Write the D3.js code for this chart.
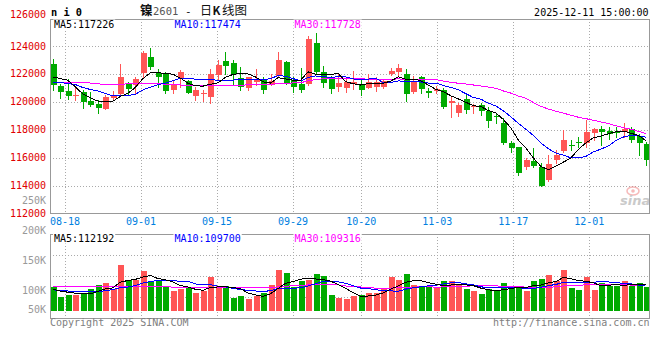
<!DOCTYPE html>
<html><head><meta charset="utf-8">
<script src="https://cdn.jsdelivr.net/npm/d3@7"></script>
<style>html,body{margin:0;padding:0;background:#fff;}svg{display:block}</style>
</head><body>
<svg id="c" width="660" height="360"></svg>
<script>
const dates = ["08-14","08-15","08-18","08-19","08-20","08-21","08-22","08-25","08-26","08-27","08-28","08-29",
"09-01","09-02","09-03","09-04","09-05","09-08","09-09","09-10","09-11","09-12","09-15","09-16","09-17","09-18","09-19","09-22","09-23","09-24","09-25","09-26","09-29","09-30",
"10-09","10-10","10-13","10-14","10-15","10-16","10-17","10-20","10-21","10-22","10-23","10-24","10-27","10-28","10-29","10-30","10-31",
"11-03","11-04","11-05","11-06","11-07","11-10","11-11","11-12","11-13","11-14","11-17","11-18","11-19","11-20","11-21","11-24","11-25","11-26","11-27","11-28",
"12-01","12-02","12-03","12-04","12-05","12-08","12-09","12-10","12-11"];

const open = [122710,121170,120790,120470,120710,120100,119860,119500,120310,120600,
121290,121190,122100,123210,122070,121980,120860,121690,121520,120450,
120570,120380,121950,122930,122790,121710,121000,121450,121620,121210,
121880,122860,121620,121330,121330,124240,122190,121690,121100,121020,
121330,121290,121020,121050,121100,121980,122170,122050,120710,121790,
120790,120790,120860,119900,119240,120190,119670,119760,119360,118980,
118520,117070,116810,115310,115790,115320,114430,115860,116520,116950,
117140,117070,117810,118070,117950,117880,117860,118070,117600,117000];
const high = [123070,121330,121640,121140,120860,120690,120120,120500,120790,122740,
121450,121810,123640,123860,122400,122170,121570,122290,121620,121100,
120900,122360,123020,123570,123000,122500,121790,122360,121810,122000,
123570,122930,121810,122430,124740,124950,122570,121860,122050,121740,
122210,121570,121980,121810,121620,122450,122740,122360,121900,121860,
121020,121140,121000,120400,119900,120480,119860,119950,119620,119190,
118830,117240,116810,116020,116690,115620,116210,116570,118000,117290,
117480,118740,118120,118290,118190,118240,118480,118240,117720,117100];
const low = [120860,120310,120210,120140,119600,119690,119240,119500,120140,120500,
120550,120640,121810,122380,121050,120620,120620,121050,120620,120140,
120100,119900,121670,122050,121330,120860,120860,121210,120670,121210,
121810,121330,120740,120740,121260,122100,121050,120670,120790,120740,
120950,120500,120980,120810,120980,121930,121930,120100,120620,120670,
120380,120620,119550,118950,119000,119190,119240,119070,118240,118520,
117000,116380,114740,115190,115330,113950,114310,115620,116380,116570,
116810,116810,117290,116920,117380,117480,117520,117100,116210,115500];
const close = [121210,120740,120450,120500,120020,119810,119600,120360,120480,121790,
120930,121690,123520,122520,121810,120810,121330,122140,120670,120900,
120670,122020,122670,122600,121980,121100,121790,121570,120860,121520,
123000,121380,121100,120860,124500,122170,121380,120930,121380,121450,
121450,120900,121450,121450,121500,122210,122450,120550,121540,120930,
120620,120950,119670,120100,119790,119430,119710,119360,118670,118930,
117070,116730,114900,115860,115380,114000,115570,116210,117290,116900,
117100,117860,118070,117880,117710,117830,118100,117290,117050,115860];

const ma5 = [121800,121690,121570,121100,120586,120305,120076,120057,120052,120405,
120629,121048,121681,122091,122095,122072,122000,121724,121353,121172,
121143,121281,121386,121772,121986,122071,122024,121805,121457,121367,
121748,121667,121571,121571,122167,122000,122000,121967,122072,121462,
121319,121224,121328,121343,121352,121505,121814,121633,121651,121537,
121218,120918,120742,120453,120224,119986,119738,119676,119391,119219,
118747,118150,117260,116698,115989,115375,115143,115405,115690,115995,
116614,117071,117443,117562,117724,117871,117919,117762,117595,117226];
const ma10 = [121405,121405,121333,121262,121048,120905,120810,120619,120452,120495,
120467,120562,120869,121072,121250,121350,121524,121703,121722,121634,
121607,121641,121555,121562,121579,121607,121653,121595,121614,121676,
121910,121845,121688,121514,121767,121874,121833,121769,121822,121814,
121660,121612,121648,121707,121407,121412,121519,121481,121497,121445,
121361,121366,121188,121052,120880,120602,120328,120209,119922,119722,
119367,118944,118468,118044,117604,117061,116647,116332,116194,115992,
115994,116107,116424,116626,116859,117243,117495,117602,117579,117474];
const ma30 = [121400,121400,121400,121390,121380,121370,121300,121290,121290,121290,
121300,121330,121350,121360,121360,121260,121250,121230,121180,121170,
121170,121180,121190,121200,121210,121220,121230,121240,121250,121268,
121328,121349,121371,121383,121532,121610,121670,121689,121719,121708,
121725,121699,121630,121595,121584,121631,121668,121615,121644,121645,
121643,121608,121508,121424,121351,121296,121227,121153,121080,120993,
120796,120641,120434,120268,119964,119692,119498,119341,119204,119053,
118907,118806,118693,118574,118448,118302,118157,118048,117898,117728];

const volume = [107000,90000,93000,94000,96000,103000,110000,114000,103000,143000,
118000,119000,133000,117000,117000,108000,100000,103000,106000,97000,
100000,123000,108000,108000,89000,91000,87000,92000,97000,110000,
135000,130000,106000,117000,119000,128000,125000,93000,89000,87000,
92000,93000,97000,97000,105000,124000,118000,129000,110000,106000,
106000,106000,116000,116000,110000,103000,100000,95000,103000,100000,
114000,108000,106000,100000,116000,120000,126000,117000,135000,105000,
102000,123000,102000,113000,108000,108000,116000,108000,113000,107000];
const volMa5 = [103000,100000,98000,96500,96000,95200,99200,103400,105200,114600,
117600,119400,123200,126000,120800,118800,115000,109000,106800,102800,
101200,105800,106800,107200,105600,103800,96600,93400,91200,95400,
104200,112800,115600,119600,121400,120000,119000,116400,110800,104400,
97200,90800,91600,93200,96800,103200,108200,114600,117200,117400,
113800,111400,108800,110000,110800,110200,109000,104800,102200,100200,
102400,104000,106200,105600,108800,110000,113600,115800,122800,120600,
117000,116400,113400,109000,109600,110800,109400,110600,110600,110400];
const volMa10 = [102000,101000,100000,99000,98500,98500,99000,100500,102500,105300,
106400,109300,113300,115600,117700,118200,117200,116100,116400,111800,
110000,110400,107900,107000,104200,102500,101200,100100,99200,100500,
104000,104700,104500,105400,108400,112100,115900,116000,115200,112900,
108600,104900,104000,102000,100600,100200,99500,103100,105200,107100,
108500,109800,111700,113600,114100,112000,110200,106800,106100,105500,
106300,106500,105500,103900,104500,106200,108800,111000,114200,114700,
113500,115000,114600,115900,115100,113900,112900,112000,109800,110000];
const volMa30 = [108000,108000,108000,108000,107500,107500,107000,107000,107000,107000,
107000,107000,107000,107000,107000,106800,106600,106500,106500,106500,
106300,106200,106100,106000,106000,106000,106000,106000,105900,105900,
106800,108100,108600,109300,110100,110900,111400,110700,110300,108400,
107500,106700,105500,104800,104400,104900,105500,106400,106500,106800,
107000,106500,106700,107000,107700,108100,108500,108600,108800,108500,
107800,107100,107100,106500,106400,106100,106200,107000,108500,109100,
109400,110400,110600,111100,111200,110700,110600,109900,110000,110100];

const priceTicks = [126000,124000,122000,120000,118000,116000,114000,112000];
const volTicks = [250000,200000,150000,100000,50000];
const volTickLabels = ["250K","200K","150K","100K","50K"];
const dateTicks = ["08-18","09-01","09-15","09-29","10-20","11-03","11-17","12-01"];
const symbolText = "n i 0";
const titleParts = ["镍", "2601", "-", "日", "K", "线图"];
const timeText = "2025-12-11 15:00:00";
const priceMaLabels = ["MA5:117226","MA10:117474","MA30:117728"];
const volMaLabels = ["MA5:112192","MA10:109700","MA30:109316"];

const RED = "#ff5555", GREEN = "#00aa00";
const MA_COLORS = ["#000000","#0000ff","#ff00ff"];
const GRID = "#aaaaaa", BORDER = "#999999";
const MONO = "'DejaVu Sans Mono', 'Liberation Mono', monospace";
const CJK = "'Noto Sans CJK SC', sans-serif";

const svg = d3.select("#c");
const L = 50, R = 650, T = 18.5, B = 213.5, VT = 234, VB = 318, VBASE = 311;
const n = close.length;

const x = d3.scaleLinear().domain([0, n - 1]).range([52.7, 646.1]);
const xg = d3.scaleLinear().domain([dates.indexOf("08-18"), dates.indexOf("12-01")]).range([65, 589.3]);
const y = d3.scaleLinear().domain([112000, 126000]).range([B, T]);
const vy = d3.scaleLinear().domain([55000, 195000]).range([VB, VT]);

const g = svg.append("g").attr("shape-rendering", "crispEdges");

// grids
const grid = g.append("g").attr("stroke", GRID).attr("stroke-dasharray", "1,2").attr("stroke-width", 1);
priceTicks.slice(1, -1).forEach(t => {
  const yy = Math.round(y(t)) + 0.5;
  grid.append("line").attr("x1", L).attr("x2", R).attr("y1", yy).attr("y2", yy);
});
[1, 2, 3].forEach(k => {
  const yy = Math.round(VT + (VB - VT) * k / 4) + 0.5;
  grid.append("line").attr("x1", L).attr("x2", R).attr("y1", yy).attr("y2", yy);
});
dateTicks.forEach(d => {
  const xx = Math.round(xg(dates.indexOf(d))) + 0.5;
  grid.append("line").attr("x1", xx).attr("x2", xx).attr("y1", T).attr("y2", B);
  grid.append("line").attr("x1", xx).attr("x2", xx).attr("y1", VT).attr("y2", VB);
});

// candles
const cg = g.append("g");
for (let i = 0; i < n; i++) {
  const up = close[i] >= open[i];
  const col = up ? RED : GREEN;
  const cx = Math.round(x(i));
  cg.append("line").attr("x1", cx + 0.5).attr("x2", cx + 0.5)
    .attr("y1", Math.round(y(high[i]))).attr("y2", Math.round(y(low[i])) + 1)
    .attr("stroke", col).attr("stroke-width", 1);
  const top = Math.round(y(Math.max(open[i], close[i])));
  const bot = Math.round(y(Math.min(open[i], close[i])));
  cg.append("rect").attr("x", cx - 2).attr("width", 6)
    .attr("y", top).attr("height", Math.max(1, bot - top)).attr("fill", col);
}

// volume bars
const vg = g.append("g");
for (let i = 0; i < n; i++) {
  const up = close[i] >= open[i];
  const cx = Math.round(x(i));
  const top = Math.round(vy(volume[i]));
  vg.append("rect").attr("x", cx - 2).attr("width", 6)
    .attr("y", top).attr("height", VBASE - top).attr("fill", up ? RED : GREEN);
}

// MA lines
const lineP = d3.line().x((d, i) => x(i)).y(d => y(d));
const lineV = d3.line().x((d, i) => x(i)).y(d => vy(d));
[ma30, ma10, ma5].forEach((s, k) => {
  svg.append("path").attr("d", lineP(s)).attr("fill", "none")
    .attr("stroke", MA_COLORS[2 - k]).attr("stroke-width", 1).attr("shape-rendering", "crispEdges");
});
[volMa30, volMa10, volMa5].forEach((s, k) => {
  svg.append("path").attr("d", lineV(s)).attr("fill", "none")
    .attr("stroke", MA_COLORS[2 - k]).attr("stroke-width", 1).attr("shape-rendering", "crispEdges");
});

// borders
const bg = svg.append("g").attr("fill", "none").attr("stroke", BORDER).attr("shape-rendering", "crispEdges");
bg.append("rect").attr("x", L + 0.5).attr("y", T + 0.5).attr("width", R - L - 1).attr("height", B - T - 0.5);
bg.append("rect").attr("x", L + 0.5).attr("y", VT + 0.5).attr("width", R - L - 1).attr("height", VB - VT);

// MA labels
const labelX = [54, 174.5, 294.5];
function maLabels(labels, base) {
  labels.forEach((t, k) => {
    svg.append("rect").attr("x", labelX[k] - 1).attr("y", base - 8).attr("width", t.length * 6.02 + 2)
      .attr("height", 10).attr("fill", "#fff");
    svg.append("text").attr("x", labelX[k]).attr("y", base).attr("font-family", MONO)
      .attr("font-size", 10).attr("fill", MA_COLORS[k]).text(t);
  });
}
maLabels(priceMaLabels, 27.5);
maLabels(volMaLabels, 241.5);

// price axis labels
priceTicks.forEach((t, k) => {
  svg.append("text").attr("x", 46).attr("y", k === 0 ? y(t) - 0.3 : y(t) + 3.2)
    .attr("text-anchor", "end").attr("font-family", MONO).attr("font-size", 10)
    .attr("fill", "#e00000").text(t);
});
// volume axis labels
volTicks.forEach((t, k) => {
  const yy = Math.min(vy(t), 310);
  svg.append("text").attr("x", 46).attr("y", yy + 3.2).attr("text-anchor", "end")
    .attr("font-family", MONO).attr("font-size", 10).attr("fill", "#999").text(volTickLabels[k]);
});
// date labels
dateTicks.forEach(d => {
  svg.append("text").attr("x", xg(dates.indexOf(d))).attr("y", 225).attr("text-anchor", "middle")
    .attr("font-family", MONO).attr("font-size", 10).attr("fill", "#0080e0").text(d);
});

// header
svg.append("text").attr("x", 51).attr("y", 15.5).attr("font-family", MONO).attr("font-weight", "bold")
  .attr("font-size", 11).attr("textLength", 31).attr("lengthAdjust", "spacingAndGlyphs").attr("fill", "#000").text(symbolText);
const title = svg.append("text").attr("y", 15).attr("fill", "#111");
const partX = [140, 153, 185, 200, 212.5, 222];
const partFont = [CJK, MONO, MONO, CJK, CJK, CJK];
const partSize = [12.5, 10.5, 11, 12, 11.5, 12.5];
const partWeight = ["bold", "normal", "normal", "normal", "bold", "normal"];
const partFill = ["#111", "#555", "#111", "#111", "#111", "#111"];
titleParts.forEach((p, k) => {
  title.append("tspan").attr("x", partX[k]).attr("font-family", partFont[k]).attr("font-size", partSize[k])
    .attr("font-weight", partWeight[k]).attr("fill", partFill[k]).text(p);
});
svg.append("text").attr("x", 648.5).attr("y", 15.5).attr("text-anchor", "end").attr("font-family", MONO)
  .attr("font-size", 10).attr("fill", "#000").text(timeText);

// footer
svg.append("text").attr("x", 50).attr("y", 325.5).attr("font-family", MONO).attr("font-size", 10)
  .attr("fill", "#808080").text("Copyright 2025 SINA.COM");
svg.append("text").attr("x", 649.5).attr("y", 325.5).attr("text-anchor", "end").attr("font-family", MONO)
  .attr("font-size", 10).attr("fill", "#808080").text("http://finance.sina.com.cn");

// watermark
const wm = svg.append("g").attr("opacity", 0.55);
wm.append("ellipse").attr("cx", 633).attr("cy", 191).attr("rx", 6).attr("ry", 4)
  .attr("fill", "none").attr("stroke", "#f08080").attr("stroke-width", 1.5);
wm.append("circle").attr("cx", 633).attr("cy", 191).attr("r", 1.8).attr("fill", "#f08080");
wm.append("text").attr("x", 620).attr("y", 205).attr("font-family", "'DejaVu Sans', sans-serif")
  .attr("font-style", "italic").attr("font-weight", "bold").attr("font-size", 13).attr("fill", "#a0a0a0").text("sina");
</script>
</body></html>
